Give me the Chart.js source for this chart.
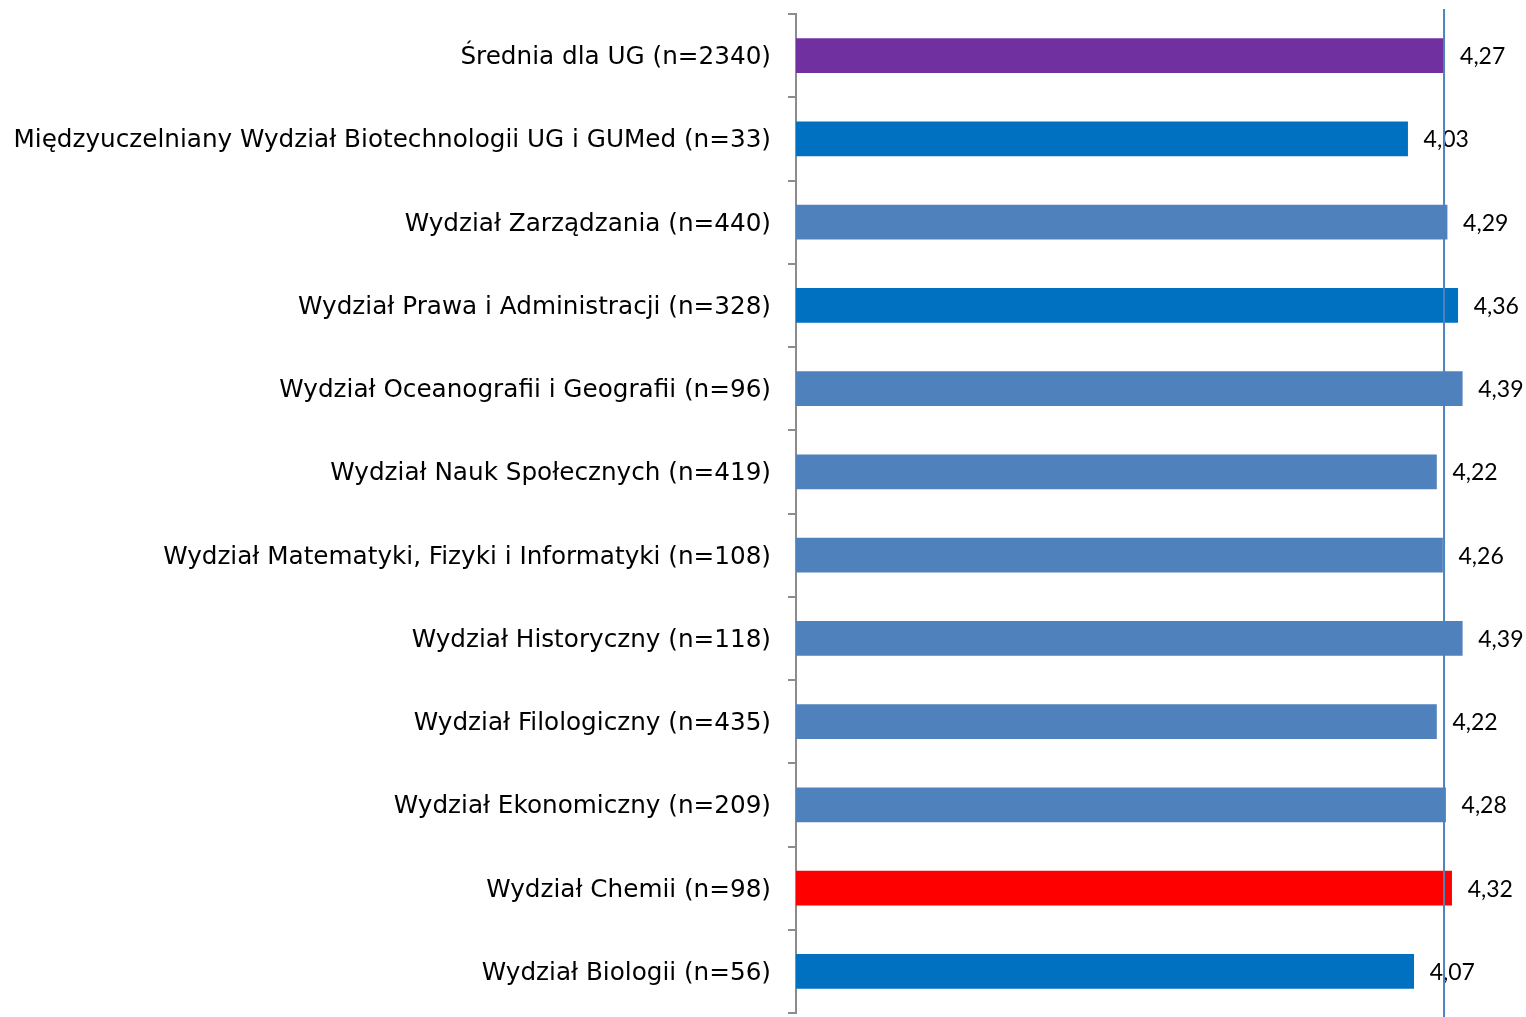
<!DOCTYPE html>
<html>
<head>
<meta charset="utf-8">
<script src="https://cdn.jsdelivr.net/npm/chart.js@4"></script>
<style>
  body { margin: 0; background: #fff; }
  #wrap { width: 1526px; height: 1017px; position: relative; }
</style>
</head>
<body>
<div id="wrap"><canvas id="myChart"></canvas></div>
<script>
// faculty names, top to bottom
const categories = [
  'Średnia dla UG (n=2340)',
  'Międzyuczelniany Wydział Biotechnologii UG i GUMed (n=33)',
  'Wydział Zarządzania (n=440)',
  'Wydział Prawa i Administracji (n=328)',
  'Wydział Oceanografii i Geografii (n=96)',
  'Wydział Nauk Społecznych (n=419)',
  'Wydział Matematyki, Fizyki i Informatyki (n=108)',
  'Wydział Historyczny (n=118)',
  'Wydział Filologiczny (n=435)',
  'Wydział Ekonomiczny (n=209)',
  'Wydział Chemii (n=98)',
  'Wydział Biologii (n=56)'
];
const values = [4.27, 4.03, 4.29, 4.36, 4.39, 4.22, 4.26, 4.39, 4.22, 4.28, 4.32, 4.07];
const barColors = ['#7030A0', '#0070C0', '#4F81BD', '#0070C0', '#4F81BD', '#4F81BD',
  '#4F81BD', '#4F81BD', '#4F81BD', '#4F81BD', '#FF0000', '#0070C0'];
const averageValue = 4.27; // the vertical reference line

// draws the value next to each bar, with a comma as decimal sign
const valueLabels = {
  id: 'valueLabels',
  afterDatasetsDraw(chart) {
    const ctx = chart.ctx;
    const meta = chart.getDatasetMeta(0);
    ctx.save();
    ctx.font = '23px Lato, "Open Sans", sans-serif';
    ctx.fillStyle = '#000';
    ctx.textAlign = 'left';
    ctx.textBaseline = 'middle';
    meta.data.forEach((bar, i) => {
      ctx.fillText(values[i].toFixed(2).replace('.', ','), bar.x + 16, bar.y + 1);
    });
    ctx.restore();
  }
};

// average line over the whole height
const avgLine = {
  id: 'avgLine',
  afterDatasetsDraw(chart) {
    const ctx = chart.ctx;
    const x = chart.scales.x.getPixelForValue(averageValue);
    ctx.save();
    ctx.strokeStyle = '#4F81BD';
    ctx.lineWidth = 2;
    ctx.beginPath();
    ctx.moveTo(x, 9);
    ctx.lineTo(x, chart.height);
    ctx.stroke();
    ctx.restore();
  }
};

new Chart(document.getElementById('myChart'), {
  type: 'bar',
  data: {
    labels: categories,
    datasets: [{
      data: values,
      backgroundColor: barColors,
      barThickness: 34
    }]
  },
  options: {
    indexAxis: 'y',
    responsive: true,
    maintainAspectRatio: false,
    animation: false,
    layout: { padding: { top: 14, bottom: 4, right: 0, left: 0 } },
    plugins: {
      legend: { display: false },
      tooltip: { enabled: false }
    },
    scales: {
      x: {
        display: false,
        min: 0,
        max: 4.81
      },
      y: {
        afterFit(scale) {
          scale.width = 796;
          scale.paddingTop = 0;
          scale.paddingBottom = 0;
        },
        grid: {
          drawOnChartArea: false,
          tickLength: 8,
          color: '#8c8c8c',
          lineWidth: 2
        },
        border: { color: '#8c8c8c', width: 2 },
        ticks: {
          color: '#000',
          padding: 17,
          labelOffset: 2,
          font: { family: '"DejaVu Sans"', size: 24.7 }
        }
      }
    }
  },
  plugins: [valueLabels, avgLine]
});
</script>
</body>
</html>
